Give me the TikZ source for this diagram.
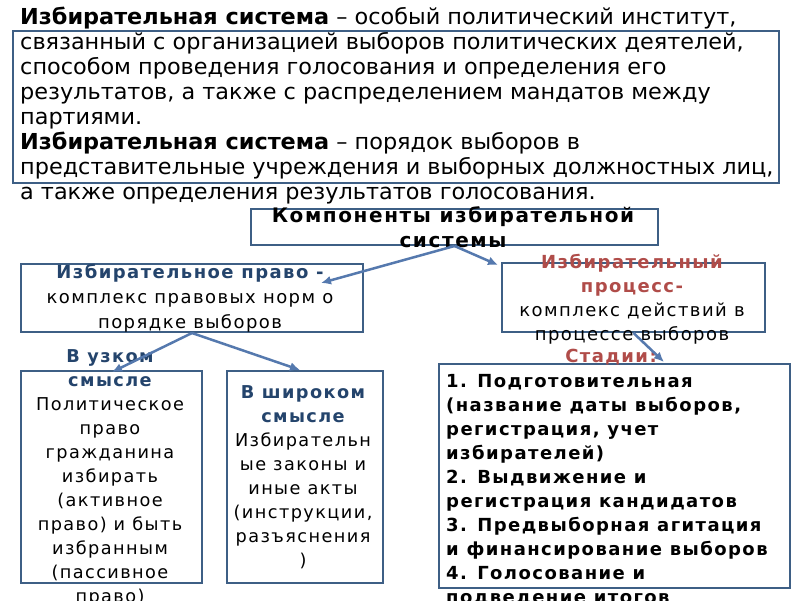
\documentclass[tikz,border=0pt]{standalone}
\usepackage{fontspec}
\setmainfont{DejaVu Sans}
\newfontfamily\condf[FakeStretch=1.13]{DejaVu Sans Condensed}
\newfontfamily\spf[LetterSpace=8]{DejaVu Sans}
\usetikzlibrary{arrows.meta}
\definecolor{boxc}{HTML}{3E5F85}
\definecolor{arrc}{HTML}{5579AE}
\definecolor{dblue}{HTML}{24446C}
\definecolor{dred}{HTML}{B04C49}
\tikzset{
  box/.style={draw=boxc, line width=2pt, fill=white, inner sep=0pt, anchor=north west},
  conn/.style={draw=arrc, line width=2.5pt, -{Latex[length=10pt,width=9pt]}},
  txt/.style={inner sep=0pt, text=black},
}
\begin{document}
\begin{tikzpicture}[x=1pt,y=-1pt]
\useasboundingbox[fill=white] (0,0) rectangle (800,600);
% boxes
\node[box, minimum width=766pt, minimum height=152pt] (def) at (12,30) {};
\node[box, minimum width=407pt, minimum height=36pt] (comp) at (250,208) {};
\node[box, minimum width=342pt, minimum height=68pt] (lbox) at (20,263) {};
\node[box, minimum width=263pt, minimum height=69pt] (rbox) at (501,262) {};
\node[box, minimum width=181pt, minimum height=212pt] (nbox) at (20,370) {};
\node[box, minimum width=156pt, minimum height=212pt] (wbox) at (226,370) {};
\node[box, minimum width=351pt, minimum height=224pt] (sbox) at (438,363) {};
% texts
\node[txt, anchor=north west, align=left, font=\condf\fontsize{22}{25}\selectfont] (deftxt) at (20,7)
{\textbf{Избирательная система} – особый политический институт,\\
связанный с организацией выборов политических деятелей,\\
способом проведения голосования и определения его\\
результатов, а также с распределением мандатов между\\
партиями.\\
\textbf{Избирательная система} – порядок выборов в\\
представительные учреждения и выборных должностных лиц,\\
а также определения результатов голосования.};
\node[txt, anchor=north, align=center, font=\spf\bfseries\fontsize{20}{25}\selectfont] (comptxt) at (453,206)
{Компоненты избирательной\\системы};
\node[txt, anchor=north, align=center, font=\spf\fontsize{18}{25}\selectfont] (ltxt) at (190,264)
{\textcolor{dblue}{\bfseries Избирательное право -}\\комплекс правовых норм о\\порядке выборов};
\node[txt, anchor=north, align=center, font=\spf\fontsize{18}{24}\selectfont] (rtxt) at (632,254)
{\textcolor{dred}{\bfseries Избирательный}\\\textcolor{dred}{\bfseries процесс-}\\комплекс действий в\\процессе выборов};
\node[txt, anchor=north, font=\spf\bfseries\fontsize{18}{24}\selectfont, text=dred] (stad) at (611,349) {Стадии:};
\node[txt, anchor=north, align=center, font=\spf\fontsize{17.7}{24}\selectfont] (ntxt) at (110,349)
{\textcolor{dblue}{\bfseries В узком}\\\textcolor{dblue}{\bfseries смысле}\\Политическое\\право\\гражданина\\избирать\\(активное\\право) и быть\\избранным\\(пассивное\\право)};
\node[txt, anchor=north, align=center, font=\spf\fontsize{17.7}{24}\selectfont] (wtxt) at (303,385)
{\textcolor{dblue}{\bfseries В широком}\\\textcolor{dblue}{\bfseries смысле}\\Избирательн\\ые законы и\\иные акты\\(инструкции,\\разъяснения\\)};
\node[txt, anchor=north west, align=left, font=\spf\bfseries\fontsize{18}{24}\selectfont] (stxt) at (446,374)
{1. Подготовительная\\(название даты выборов,\\регистрация, учет\\избирателей)\\2. Выдвижение и\\регистрация кандидатов\\3. Предвыборная агитация\\и финансирование выборов\\4. Голосование и\\подведение итогов};
% connectors
\coordinate (la) at (321,283);
\coordinate (ra) at (498,265);
\coordinate (na) at (112,372);
\coordinate (wa) at (300,370);
\coordinate (sa) at (664,362);
\draw[conn] (comp.south) -- (la);
\draw[conn] (comp.south) -- (ra);
\draw[conn] (lbox.south) -- (na);
\draw[conn] (lbox.south) -- (wa);
\draw[conn] (rbox.south) -- (sa);
\end{tikzpicture}
\end{document}
